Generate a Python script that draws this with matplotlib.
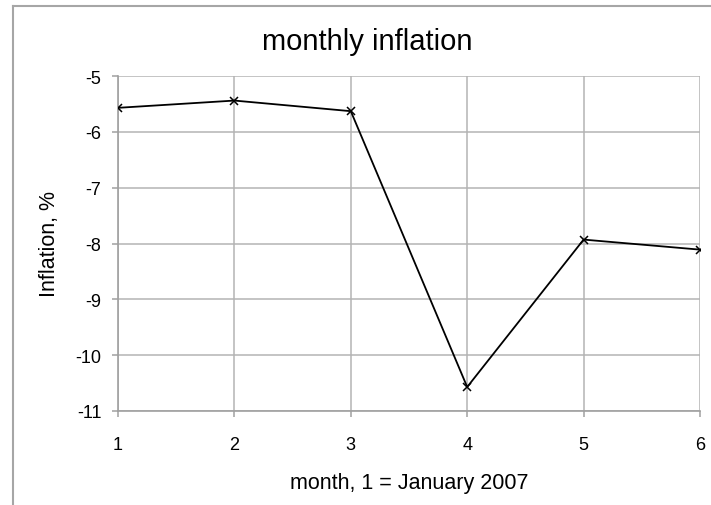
import matplotlib
matplotlib.use("Agg")
import matplotlib.pyplot as plt
from matplotlib.lines import Line2D

# Data
months = [1, 2, 3, 4, 5, 6]
inflation = [-5.57, -5.44, -5.63, -10.57, -7.93, -8.11]
y_ticks = [-5, -6, -7, -8, -9, -10, -11]

plt.rcParams['font.family'] = ['Liberation Sans', 'DejaVu Sans']

W, H = 711, 506
fig = plt.figure(figsize=(W / 100, H / 100), dpi=100)

# plot area in pixels
left, right, top, bottom = 118, 700, 77, 412
ax = fig.add_axes([left / W, 1 - bottom / H, (right - left) / W, (bottom - top) / H])

grid_col = '#b4b4b4'
ax.plot(months, inflation, color='black', lw=1.3, marker='x', ms=6, mew=1.1, zorder=3)

ax.set_xlim(1, 6)
ax.set_ylim(-11, -5)
ax.set_xticks(months)
ax.set_yticks(y_ticks)
ax.set_yticklabels([str(v) for v in y_ticks])
ax.grid(True, color=grid_col, lw=1.1)
ax.set_axisbelow(True)

for s in ['top', 'right']:
    ax.spines[s].set_visible(False)
for s in ['left', 'bottom']:
    ax.spines[s].set_color('#a0a0a0')
    ax.spines[s].set_linewidth(1.2)

ax.tick_params(axis='both', direction='out', length=4, color='#a0a0a0',
               width=1.1, labelsize=13, colors='black')
ax.tick_params(axis='y', pad=8)
ax.tick_params(axis='x', pad=14)
for t in ax.get_xticklabels() + ax.get_yticklabels():
    t.set_color('black')

# labels and title
fig.text(367.5 / W, 1 - 50 / H, 'monthly inflation', fontsize=21,
         ha='center', va='baseline')
fig.text(409 / W, 1 - 489 / H, 'month, 1 = January 2007', fontsize=15.5,
         ha='center', va='baseline')
fig.text(49 / W, 1 - 244 / H, 'Inflation, %', fontsize=15.5,
         ha='center', va='center', rotation=90)

# chart-area border (only left and top visible)
border = '#a6a6a6'
fig.add_artist(Line2D([13 / W, 13 / W], [0, 1 - 7 / H], color=border, lw=1.5,
                      transform=fig.transFigure))
fig.add_artist(Line2D([13 / W, 1], [1 - 7 / H, 1 - 7 / H], color=border, lw=1.5,
                      transform=fig.transFigure))

fig.savefig('out.png', dpi=100)
